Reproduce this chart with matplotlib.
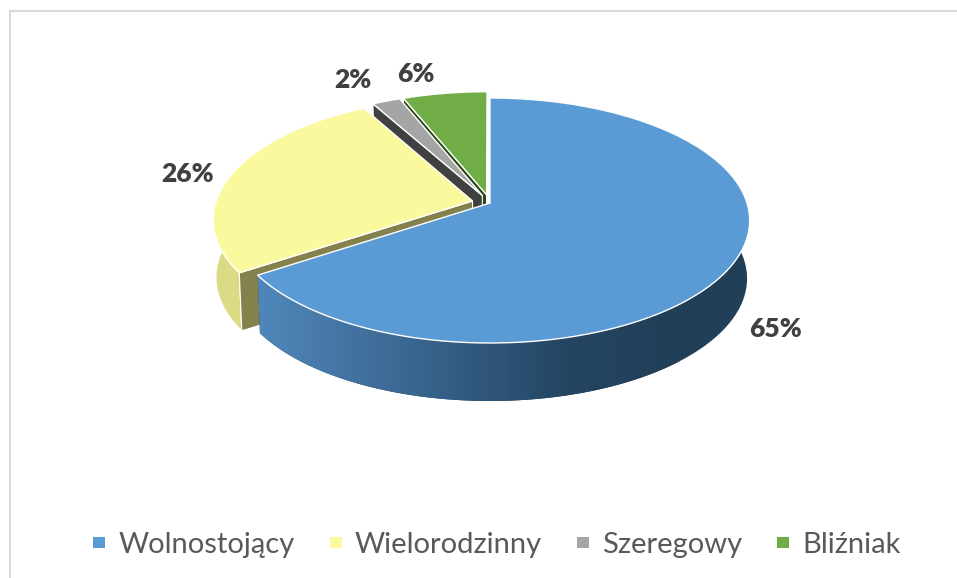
import numpy as np
import matplotlib
matplotlib.use('Agg')
import matplotlib.pyplot as plt
from matplotlib.patches import Polygon, Patch
from matplotlib.colors import LinearSegmentedColormap

categories = ['Wolnostojący', 'Wielorodzinny', 'Szeregowy', 'Bliźniak']
values = [65, 26, 2, 6]
colors = ['#5B9BD5', '#FBF99D', '#A5A5A5', '#70AD47']
face_colors = ['#3A6A96', '#85814D', '#404040', '#2A4A18']
explode = [0, 0.07, 0.07, 0.07]

# perspective of the pie plane, in pixels
cx, cy = 490, 203
a, b, k = 257, 120, 1 / 7
depth = 58
shrink = 0.99


def project(X, Y):
    w = 1 - k * Y
    return cx + a * X / w, cy + b * Y / w


def lower(x, y):
    return cx + (x - cx) * shrink, y + depth


fig = plt.figure(figsize=(9.57, 5.78), dpi=100)
ax = fig.add_axes([0, 0, 1, 1])
ax.set_xlim(0, 957)
ax.set_ylim(578, 0)
ax.axis('off')

# chart frame, only left and top fall inside the crop
ax.plot([10, 10, 957], [578, 11, 11], color='#D9D9D9', lw=1.5, solid_joinstyle='miter')

fracs = np.array(values) / sum(values)
starts = np.concatenate([[0], np.cumsum(fracs)[:-1]]) * 2 * np.pi
ends = np.cumsum(fracs) * 2 * np.pi

for i in [3, 2, 1, 0]:
    mid = (starts[i] + ends[i]) / 2
    ox, oy = explode[i] * np.sin(mid), -explode[i] * np.cos(mid)
    t = np.linspace(starts[i], ends[i], 200)
    x, y = project(np.sin(t) + ox, -np.cos(t) + oy)
    ax_, ay_ = project(ox, oy)
    x2, y2 = lower(x, y)
    band = np.vstack([np.c_[x, y], np.c_[x2, y2][::-1]])

    if i == 0:
        cmap = LinearSegmentedColormap.from_list('side', ['#5088BC', '#41719E', '#315A80', '#24445F', '#223F58'])
        side = Polygon(band, closed=True, fc='none', ec='none', zorder=2)
        ax.add_patch(side)
        img = ax.imshow(np.linspace(0, 1, 256)[None, :], extent=[255, 680, 420, 200], cmap=cmap, aspect='auto', zorder=2)
        img.set_clip_path(side)
        dark = Polygon(band, closed=True, fc='#223F58', ec='none', zorder=1.9)
        ax.add_patch(dark)
    else:
        ax.add_patch(Polygon(band, closed=True, fc='#DCDA85' if i == 1 else face_colors[i], ec='white', lw=0.8, zorder=2))
        # cut face toward the viewer
        px, py = x[0], y[0]
        qx, qy = lower(px, py)
        rx, ry = lower(ax_, ay_)
        ax.add_patch(Polygon([[ax_, ay_], [px, py], [qx, qy], [rx, ry]], closed=True,
                             fc=face_colors[i], ec='white', lw=0.8, zorder=2))

    top = np.vstack([[ax_, ay_], np.c_[x, y]])
    ax.add_patch(Polygon(top, closed=True, fc=colors[i], ec='white', lw=1, zorder=3))
    # keep later slices above earlier ones
    for p in ax.patches[-3:]:
        p.set_zorder(p.get_zorder() + (3 - i) * 5)
    if i == 0:
        img.set_zorder(2 + 15 + 0.05)

label_xy = [(775, 329), (188, 174), (353, 80), (416, 74)]
for v, (lx, ly) in zip(values, label_xy):
    ax.text(lx, ly, f'{v}%', ha='center', va='center', fontsize=19, fontweight='heavy',
            family='Lato', color='#404040', zorder=50)

handles = [Patch(fc=c, ec='none') for c in colors]
leg = ax.legend(handles, categories, ncol=4, loc='center', bbox_to_anchor=(497 / 957, 1 - 545 / 578),
                frameon=False, prop={'family': 'Lato', 'size': 21}, labelcolor='#595959',
                handlelength=0.41, handleheight=0.25, handletextpad=0.45, columnspacing=1.2)

fig.savefig('out.png', dpi=100)
